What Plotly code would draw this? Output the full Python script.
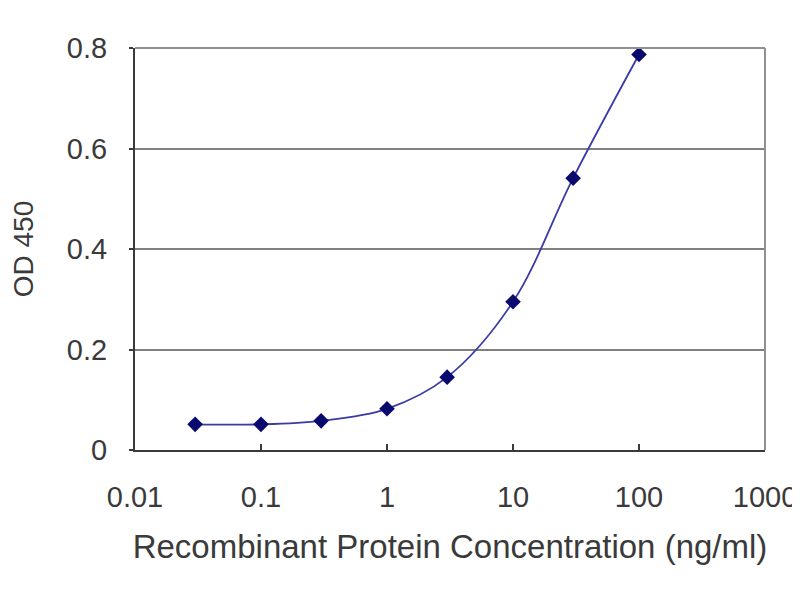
import plotly.graph_objects as go

concentration = [0.03, 0.1, 0.3, 1, 3, 10, 30, 100]
od450 = [0.051, 0.051, 0.058, 0.082, 0.145, 0.295, 0.541, 0.787]
x_tickvals = [0.01, 0.1, 1, 10, 100, 1000]
x_ticktext = ["0.01", "0.1", "1", "10", "100", "1000"]
y_tickvals = [0, 0.2, 0.4, 0.6, 0.8]
y_ticktext = ["0", "0.2", "0.4", "0.6", "0.8"]

fig = go.Figure()
fig.add_trace(go.Scatter(
    x=concentration, y=od450, mode="lines+markers",
    line=dict(color="#3a3aa8", width=1.8, shape="spline", smoothing=1.0),
    marker=dict(symbol="diamond", size=12, color="#0a0a6e"),
    showlegend=False, hoverinfo="skip"))

font = "Liberation Sans, Arial, sans-serif"
fig.update_layout(
    width=792, height=592,
    margin=dict(l=127, r=35, t=40, b=150, autoexpand=False),
    paper_bgcolor="white", plot_bgcolor="white",
    font=dict(family=font, color="#3a3a3a"),
    xaxis=dict(type="log", range=[-2, 3], tickvals=x_tickvals, ticktext=x_ticktext,
               showgrid=False, showline=True, linecolor="#3a3a3a", linewidth=2,
               ticks="inside", ticklen=6, tickwidth=2, tickcolor="#3a3a3a",
               tickfont=dict(size=29), ticklabelstandoff=20, automargin=False,
               title=dict(text="Recombinant Protein Concentration (ng/ml)",
                          font=dict(size=33), standoff=23),
               zeroline=False),
    yaxis=dict(range=[0, 0.8], tickvals=y_tickvals, ticktext=y_ticktext,
               showgrid=True, gridcolor="#808080", gridwidth=2,
               showline=True, linecolor="#3a3a3a", linewidth=2,
               ticks="outside", ticklen=4, tickwidth=2, tickcolor="#3a3a3a",
               tickfont=dict(size=29), ticklabelstandoff=16, automargin=False,
               title=dict(text="OD 450", font=dict(size=28), standoff=32),
               zeroline=False),
)
fig.add_shape(type="line", xref="paper", yref="paper", x0=1, x1=1, y0=0, y1=1,
              line=dict(color="#909090", width=2))
fig.add_shape(type="line", xref="paper", yref="paper", x0=0, x1=1, y0=1, y1=1,
              line=dict(color="#909090", width=2))
fig.write_html("out.html")
